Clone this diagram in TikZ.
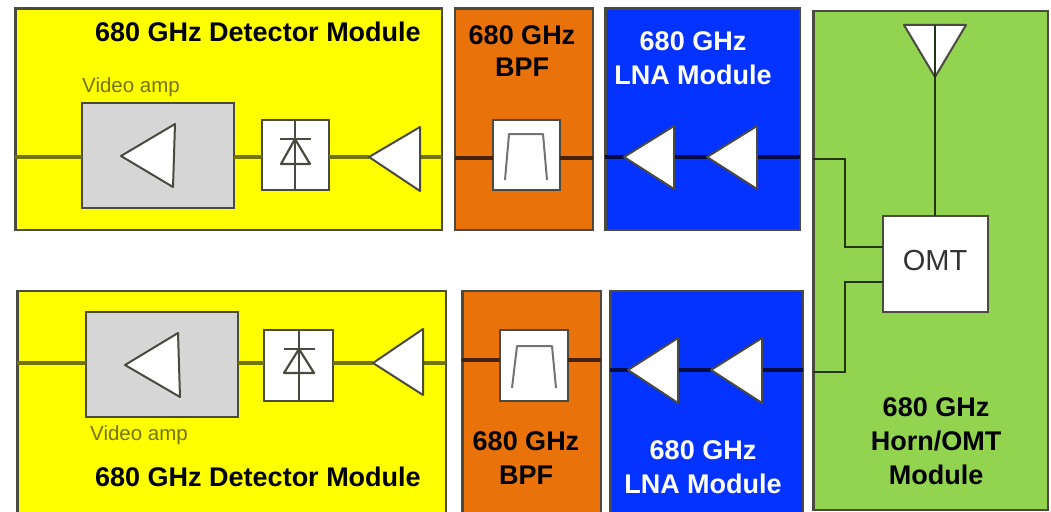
\documentclass[tikz,border=0pt]{standalone}
\usepackage{fontspec}
\setmainfont{Liberation Sans}
\definecolor{myyellow}{HTML}{FFFF00}
\definecolor{myorange}{HTML}{E9720B}
\definecolor{myblue}{HTML}{0433FF}
\definecolor{mygreen}{HTML}{92D450}
\definecolor{mygray}{HTML}{D6D6D6}
\definecolor{frame}{HTML}{4A4A40}
\tikzset{
  blockbox/.style={draw=frame,line width=2.4pt,inner sep=0pt,outer sep=0pt,anchor=center},
  ymod/.style={blockbox,fill=myyellow},
  omod/.style={blockbox,fill=myorange},
  bmod/.style={blockbox,fill=myblue},
  gmod/.style={blockbox,fill=mygreen},
  vbox/.style={blockbox,fill=mygray},
  wbox/.style={blockbox,fill=white},
  wire/.style={line width=3.2pt},
  ywire/.style={wire,draw=black!55!myyellow},
  owire/.style={wire,draw=black!70!myorange},
  bwire/.style={wire,draw=black!75!myblue},
  gwire/.style={line width=2.4pt,draw=black!75!mygreen},
  tri/.style={draw=frame,fill=white,line width=2pt,line join=round},
  sym/.style={draw=frame,line width=2.2pt,line join=round},
  filt/.style={draw=black!55,line width=2pt,line join=round},
  title/.style={font=\fontsize{27}{30}\selectfont\bfseries,inner sep=0pt,text=black},
  whtitle/.style={font=\fontsize{27}{30}\selectfont\bfseries,inner sep=0pt,text=white},
  small/.style={font=\fontsize{20.5}{24}\selectfont,inner sep=0pt,text=black!55!myyellow,anchor=west},
}
% name, x1,y1,x2,y2, style
\newcommand\rectnode[6]{%
  \pgfmathsetmacro\rw{#4-#2}\pgfmathsetmacro\rh{#5-#3}%
  \pgfmathsetmacro\rcx{(#2+#4)/2}\pgfmathsetmacro\rcy{(#3+#5)/2}%
  \node[#6,minimum width=\rw pt,minimum height=\rh pt] (#1) at (\rcx,\rcy) {};}
% name, tip, upper base, lower base
\newcommand\amptri[4]{%
  \coordinate (#1tip) at #2;
  \coordinate (#1up) at #3;
  \coordinate (#1lo) at #4;
  \coordinate (#1base) at ($(#1up)!0.5!(#1lo)$);}
\newcommand\drawtri[1]{\draw[tri] (#1tip) -- (#1up) -- (#1lo) -- cycle;}
\usetikzlibrary{calc}
\begin{document}
\begin{tikzpicture}[x=1pt,y=-1pt]
\useasboundingbox (0,0) rectangle (1051,511);
\clip (0,0) rectangle (1051,511);
% modules
\rectnode{detA}{15.5}{8.5}{442}{230}{ymod}
\rectnode{bpfA}{455}{8.5}{593}{230}{omod}
\rectnode{lnaA}{605.5}{8.5}{800}{230}{bmod}
\rectnode{horn}{813.5}{11}{1048}{510}{gmod}
\rectnode{detB}{17.5}{291}{446}{525}{ymod}
\rectnode{bpfB}{462.5}{291}{601}{525}{omod}
\rectnode{lnaB}{610.5}{291}{803}{525}{bmod}
% free wire ends
\coordinate (aL) at (15,157);  \coordinate (aR) at (442,157);
\coordinate (bL) at (17,363);  \coordinate (bR) at (446,363);
\coordinate (fAL) at (454.5,158); \coordinate (fAR) at (593,158);
\coordinate (fBL) at (462,360); \coordinate (fBR) at (601,360);
\coordinate (lAL) at (605,157); \coordinate (lAR) at (800,157);
\coordinate (lBL) at (610,370); \coordinate (lBR) at (803,370);
\coordinate (gA) at (813,159); \coordinate (gB) at (813,372);
% amplifiers
\amptri{vamA}{(121,156)}{(175,124)}{(173,187)}
\amptri{detampA}{(369,157)}{(420,127)}{(420,191)}
\amptri{vamB}{(125,365)}{(178,333)}{(180,397)}
\amptri{detampB}{(373,363)}{(423,329)}{(423,395)}
\amptri{lnaAa}{(624,157)}{(674,126)}{(674,189)}
\amptri{lnaAb}{(707,157)}{(757,126)}{(757,189)}
\amptri{lnaBa}{(628,370)}{(678,338)}{(678,403)}
\amptri{lnaBb}{(711,370)}{(762,338)}{(762,403)}
% inner boxes
\rectnode{vidA}{82}{103}{234}{208}{vbox}
\rectnode{dioA}{262}{120}{329}{190}{wbox}
\rectnode{filA}{493}{120}{560}{190}{wbox}
\rectnode{vidB}{86}{312}{238}{417}{vbox}
\rectnode{dioB}{264}{330}{333}{401}{wbox}
\rectnode{filB}{500}{330}{568}{401}{wbox}
\rectnode{omt}{883}{216}{988}{312}{wbox}
\node[inner sep=0pt,font=\fontsize{29}{32}\selectfont,text=black!80] (omtlabel) at (935,261) {OMT};
% wires, detector modules
\draw[ywire] (aL) -- (vidA.west |- aL);
\draw[ywire] (vidA.east |- aL) -- (dioA.west |- aL);
\draw[ywire] (dioA.east |- aL) -- (detampAtip |- aL);
\draw[ywire] (detampAup |- aL) -- (aR);
\draw[ywire] (bL) -- (vidB.west |- bL);
\draw[ywire] (vidB.east |- bL) -- (dioB.west |- bL);
\draw[ywire] (dioB.east |- bL) -- (detampBtip |- bL);
\draw[ywire] (detampBup |- bL) -- (bR);
% wires, filters
\draw[owire] (fAL) -- (filA.west |- fAL);
\draw[owire] (filA.east |- fAR) -- (fAR);
\draw[owire] (fBL) -- (filB.west |- fBL);
\draw[owire] (filB.east |- fBR) -- (fBR);
% wires, LNAs
\draw[bwire] (lAL) -- (lnaAatip |- lAL);
\draw[bwire] (lnaAaup |- lAL) -- (lnaAbtip |- lAL);
\draw[bwire] (lnaAbup |- lAL) -- (lAR);
\draw[bwire] (lBL) -- (lnaBatip |- lBL);
\draw[bwire] (lnaBaup |- lBL) -- (lnaBbtip |- lBL);
\draw[bwire] (lnaBbup |- lBL) -- (lBR);
% amplifier triangles
\drawtri{vamA}\drawtri{detampA}\drawtri{vamB}\drawtri{detampB}
\drawtri{lnaAa}\drawtri{lnaAb}\drawtri{lnaBa}\drawtri{lnaBb}
% filter symbols
\draw[filt] (505,180) -- (509,134) -- (543,134) -- (547,180);
\draw[filt] (512,388) -- (517,346) -- (552,346) -- (556,388);
% diodes
\coordinate (dAtip) at (295,139);
\draw[sym] (dioA.north -| dAtip) -- (dioA.south -| dAtip);
\draw[sym] (280,139) -- (311,139);
\draw[sym] (dAtip) -- (281,164) -- (310,164) -- cycle;
\coordinate (dBtip) at (299,349);
\draw[sym] (dioB.north -| dBtip) -- (dioB.south -| dBtip);
\draw[sym] (284,349) -- (315,349);
\draw[sym] (dBtip) -- (284,373) -- (314,373) -- cycle;
% horn
\coordinate (hornL) at (904,25); \coordinate (hornR) at (966,25); \coordinate (hornT) at (935,77);
\coordinate (hornM) at (935,25);
\draw[tri] (hornL) -- (hornR) -- (hornT) -- cycle;
\draw[gwire] (hornM) -- (omt.north -| hornM);
% horn/OMT wires
\draw[gwire] (gA) -| (845,247) -- (omt.west |- 0,247);
\draw[gwire] (gB) -| (845,282) -- (omt.west |- 0,282);
% labels
\node[title] (tA) at (258,32) {680 GHz Detector Module};
\node[title] (tB) at (258,477) {680 GHz Detector Module};
\node[small] (vlA) at (82,87) {Video amp};
\node[small] (vlB) at (90,435) {Video amp};
\node[title] (oA1) at (522,35) {680 GHz};
\node[title] (oA2) at (522,67) {BPF};
\node[title] (oB1) at (526,441) {680 GHz};
\node[title] (oB2) at (526,475) {BPF};
\node[whtitle] (bA1) at (693,41) {680 GHz};
\node[whtitle] (bA2) at (693,75) {LNA Module};
\node[whtitle] (bB1) at (703,450) {680 GHz};
\node[whtitle] (bB2) at (703,484) {LNA Module};
\node[title] (g1) at (936,407) {680 GHz};
\node[title] (g2) at (936,441) {Horn/OMT};
\node[title] (g3) at (936,475) {Module};
\end{tikzpicture}
\end{document}
